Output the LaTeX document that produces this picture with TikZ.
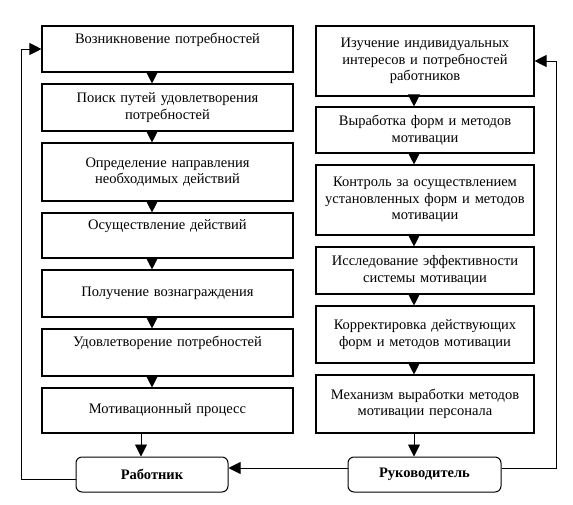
\documentclass[tikz,border=0pt]{standalone}
\usepackage{fontspec}
\setmainfont{Liberation Serif}
\usetikzlibrary{arrows.meta,calc}
\begin{document}
\begin{tikzpicture}[x=1pt,y=-1pt,
  txt/.style={font=\fontsize{14.5}{16.5}\selectfont},
  lbox/.style={draw,line width=1.1pt,align=center,inner sep=0pt,txt,minimum width=251pt,text width=247pt},
  rbox/.style={draw,line width=1.1pt,align=center,inner sep=0pt,txt,minimum width=218pt,text width=214pt},
  rnd/.style={draw,line width=1pt,rounded corners=6pt,inner sep=0pt,font=\fontsize{14.5}{16.5}\selectfont\bfseries,minimum width=152pt,minimum height=35pt},
  tri/.style={line width=0.9pt,-{Triangle[length=12pt,width=12pt]}},
  fb/.style={line width=0.9pt}]
\useasboundingbox (0,0) rectangle (573,504);
% left column
\node[lbox,minimum height=46pt] (L1) at (167.5,49) {Возникновение потребностей\\\strut};
\node[lbox,minimum height=47pt] (L2) at (167.5,107.5) {Поиск путей удовлетворения\\потребностей};
\node[lbox,minimum height=58pt] (L3) at (167.5,172) {Определение направления\\необходимых действий};
\node[lbox,minimum height=45pt] (L4) at (167.5,235.5) {Осуществление действий\\\strut};
\node[lbox,minimum height=47pt] (L5) at (167.5,293.5) {Получение вознаграждения};
\node[lbox,minimum height=47pt] (L6) at (167.5,352.5) {Удовлетворение потребностей\\\strut};
\node[lbox,minimum height=45pt] (L7) at (167.5,410.5) {Мотивационный процесс};
% right column
\node[rbox,minimum height=70pt] (R1) at (425,61) {Изучение индивидуальных\\интересов и потребностей\\работников};
\node[rbox,minimum height=46pt] (R2) at (425,130) {Выработка форм и методов\\мотивации};
\node[rbox,minimum height=70pt] (R3) at (425,200) {Контроль за осуществлением\\установленных форм и методов\\мотивации};
\node[rbox,minimum height=47pt] (R4) at (425,270.5) {Исследование эффективности\\системы мотивации};
\node[rbox,minimum height=57pt] (R5) at (425,334.5) {Корректировка действующих\\форм и методов мотивации};
\node[rbox,minimum height=58pt] (R6) at (425,404) {Механизм выработки методов\\мотивации персонала};
% bottom actors
\node[rnd] (W) at (152,474.5) {Работник};
\node[rnd,minimum width=153pt] (M) at (424.5,474.5) {Руководитель};
% helper coordinates
\coordinate (ax) at (152,0);
\coordinate (bx) at (414,0);
\coordinate (wx) at (141,0);
\coordinate (hy) at (0,468);
\coordinate (lw) at (21,479);
\coordinate (rw) at (556,468);
% arrows in columns
\foreach \a/\b in {L1/L2,L2/L3,L3/L4,L4/L5,L5/L6,L6/L7}
  \draw[tri] (\a.south -| ax) -- (\b.north -| ax);
\foreach \a/\b in {R1/R2,R2/R3,R3/R4,R4/R5,R5/R6}
  \draw[tri] (\a.south -| bx) -- (\b.north -| bx);
\draw[tri] (L7.south -| wx) -- (W.north -| wx);
\draw[tri] (R6.south -| bx) -- (M.north -| bx);
\draw[tri] (M.west |- hy) -- (W.east |- hy);
% feedback loops
\draw[fb,-{Triangle[length=12pt,width=12pt]}] (W.west |- lw) -- (lw) -- (lw |- L1.west) -- (L1.west);
\draw[fb,-{Triangle[length=12pt,width=12pt]}] (M.east |- rw) -- (rw) -- (rw |- R1.east) -- (R1.east);
\end{tikzpicture}
\end{document}
